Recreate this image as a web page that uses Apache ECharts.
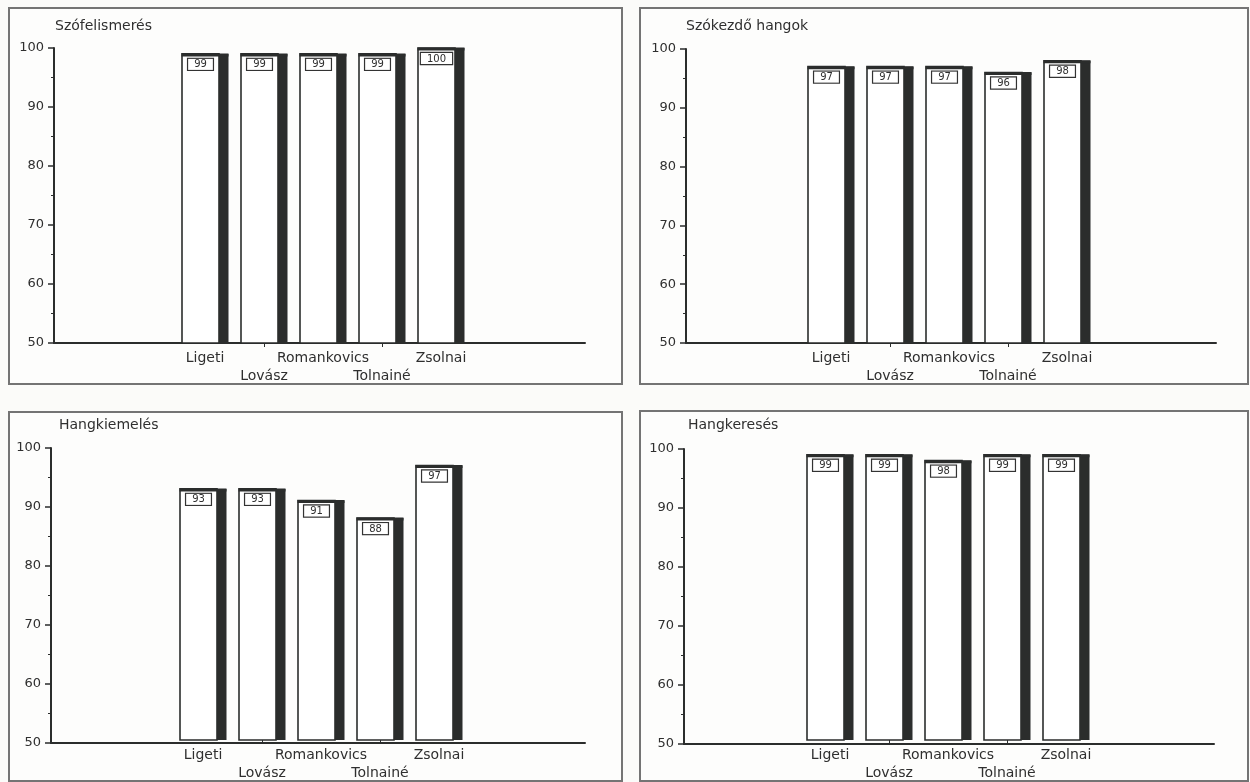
<!DOCTYPE html>
<html>
<head>
<meta charset="utf-8">
<script src="https://cdn.jsdelivr.net/npm/echarts@6/dist/echarts.min.js"></script>
<style>
  html, body { margin: 0; padding: 0; background: #fbfbf9; }
  #chart { width: 1250px; height: 782px; }
</style>
</head>
<body>
<div id="chart"></div>
<script>
// Categories (names) shared by all four panels
const categories = ['Ligeti', 'Lovász', 'Romankovics', 'Tolnainé', 'Zsolnai'];

// Panel titles
const panelTitles = ['Szófelismerés', 'Szókezdő hangok', 'Hangkiemelés', 'Hangkeresés'];

// Scores per panel (percent)
const szofelismeres = [99, 99, 99, 99, 100];
const szokezdoHangok = [97, 97, 97, 96, 98];
const hangkiemeles = [93, 93, 91, 88, 97];
const hangkereses = [99, 99, 98, 99, 99];

// Value axis range and step
const yMin = 50;
const yMax = 100;
const yStep = 10;

const panelValues = [szofelismeres, szokezdoHangok, hangkiemeles, hangkereses];

// Panel geometry: frame box, value-axis position, plot top/bottom, baseline end, first bar centre
const layouts = [
  { frame: [8, 7, 613, 376],   axisX: 54,  top: 48,  bottom: 343, xEnd: 585,  firstCenter: 205, titleX: 55,  titleY: 19 },
  { frame: [639, 7, 608, 376], axisX: 686, top: 49,  bottom: 343, xEnd: 1216, firstCenter: 831, titleX: 686, titleY: 19 },
  { frame: [8, 411, 613, 369], axisX: 51,  top: 448, bottom: 743, xEnd: 585,  firstCenter: 203, titleX: 59,  titleY: 418 },
  { frame: [639, 410, 608, 370], axisX: 684, top: 449, bottom: 744, xEnd: 1214, firstCenter: 830, titleX: 688, titleY: 418 }
];

const STEP = 59;          // distance between bar centres
const INK = '#2b2d2c';
const TEXT = '#2f2f2f';
const FONT = 'DejaVu Sans';

// Box-style bar: white front face, dark side face, value tag near the top
function renderBox(params, api) {
  const v = api.value(1);
  const topPt = api.coord([api.value(0), v]);
  const basePt = api.coord([api.value(0), yMin]);
  const cx = topPt[0];
  const top = topPt[1];
  const h = basePt[1] - top;
  return {
    type: 'group',
    children: [
      { type: 'rect', shape: { x: cx - 23, y: top, width: 37, height: h },
        style: { fill: '#ffffff', stroke: INK, lineWidth: 1.6 } },
      { type: 'rect', shape: { x: cx + 14, y: top, width: 9.5, height: h },
        style: { fill: INK } },
      { type: 'line', shape: { x1: cx - 23.5, y1: top + 1, x2: cx + 23.5, y2: top + 1 },
        style: { stroke: INK, lineWidth: 3 } },
      { type: 'text',
        style: { text: String(v), x: cx - 4.5, y: top + 5, align: 'center', verticalAlign: 'top',
                 font: '10px "' + FONT + '"', fill: TEXT,
                 backgroundColor: '#fff', borderColor: '#333', borderWidth: 1.2, padding: [1, 6, 0, 6] } }
    ]
  };
}

const grid = [], xAxis = [], yAxis = [], series = [], title = [], graphics = [];

layouts.forEach((L, i) => {
  const h = L.bottom - L.top;
  // frame
  graphics.push({ type: 'rect', left: L.frame[0], top: L.frame[1], z: -1,
    shape: { width: L.frame[2], height: L.frame[3] },
    style: { fill: '#fdfdfc', stroke: '#747474', lineWidth: 2 } });
  title.push({ text: panelTitles[i], left: L.titleX, top: L.titleY, padding: 0,
    textStyle: { fontFamily: FONT, fontSize: 14, fontWeight: 'normal', color: TEXT } });

  // axis grid (full baseline + value axis)
  grid.push({ left: L.axisX, top: L.top, width: L.xEnd - L.axisX, height: h });
  // bar grid (category slots)
  grid.push({ left: L.firstCenter - STEP / 2, top: L.top, width: STEP * categories.length, height: h });

  xAxis.push({ type: 'value', gridIndex: 2 * i, min: 0, max: 1,
    axisLine: { show: true, lineStyle: { color: INK, width: 2 } },
    axisTick: { show: false }, axisLabel: { show: false }, splitLine: { show: false } });
  xAxis.push({ type: 'category', gridIndex: 2 * i + 1, data: categories,
    axisLine: { show: false },
    axisTick: { show: true, alignWithLabel: true, length: 4,
      interval: (idx) => idx % 2 === 1, lineStyle: { color: INK, width: 1 } },
    axisLabel: { interval: 0, margin: 6, lineHeight: 18, fontFamily: FONT, fontSize: 14, color: TEXT,
      formatter: (val, idx) => (idx % 2 === 1 ? '\n' + val : val) },
    splitLine: { show: false } });

  yAxis.push({ type: 'value', gridIndex: 2 * i, min: yMin, max: yMax, interval: yStep,
    axisLine: { show: true, lineStyle: { color: INK, width: 2 } },
    axisTick: { show: true, length: 6, lineStyle: { color: INK, width: 1.5 } },
    minorTick: { show: true, splitNumber: 2, length: 3, lineStyle: { color: INK, width: 1 } },
    axisLabel: { margin: 10, fontFamily: FONT, fontSize: 13, color: TEXT },
    splitLine: { show: false } });
  yAxis.push({ type: 'value', gridIndex: 2 * i + 1, min: yMin, max: yMax, show: false });

  series.push({ type: 'custom', xAxisIndex: 2 * i + 1, yAxisIndex: 2 * i + 1,
    renderItem: renderBox, silent: true,
    data: categories.map((c, k) => [c, panelValues[i][k]]) });
});

const chart = echarts.init(document.getElementById('chart'), null, { renderer: 'canvas' });
chart.setOption({
  animation: false,
  backgroundColor: '#fbfbf9',
  title, grid, xAxis, yAxis, series,
  graphic: graphics
});
</script>
</body>
</html>
